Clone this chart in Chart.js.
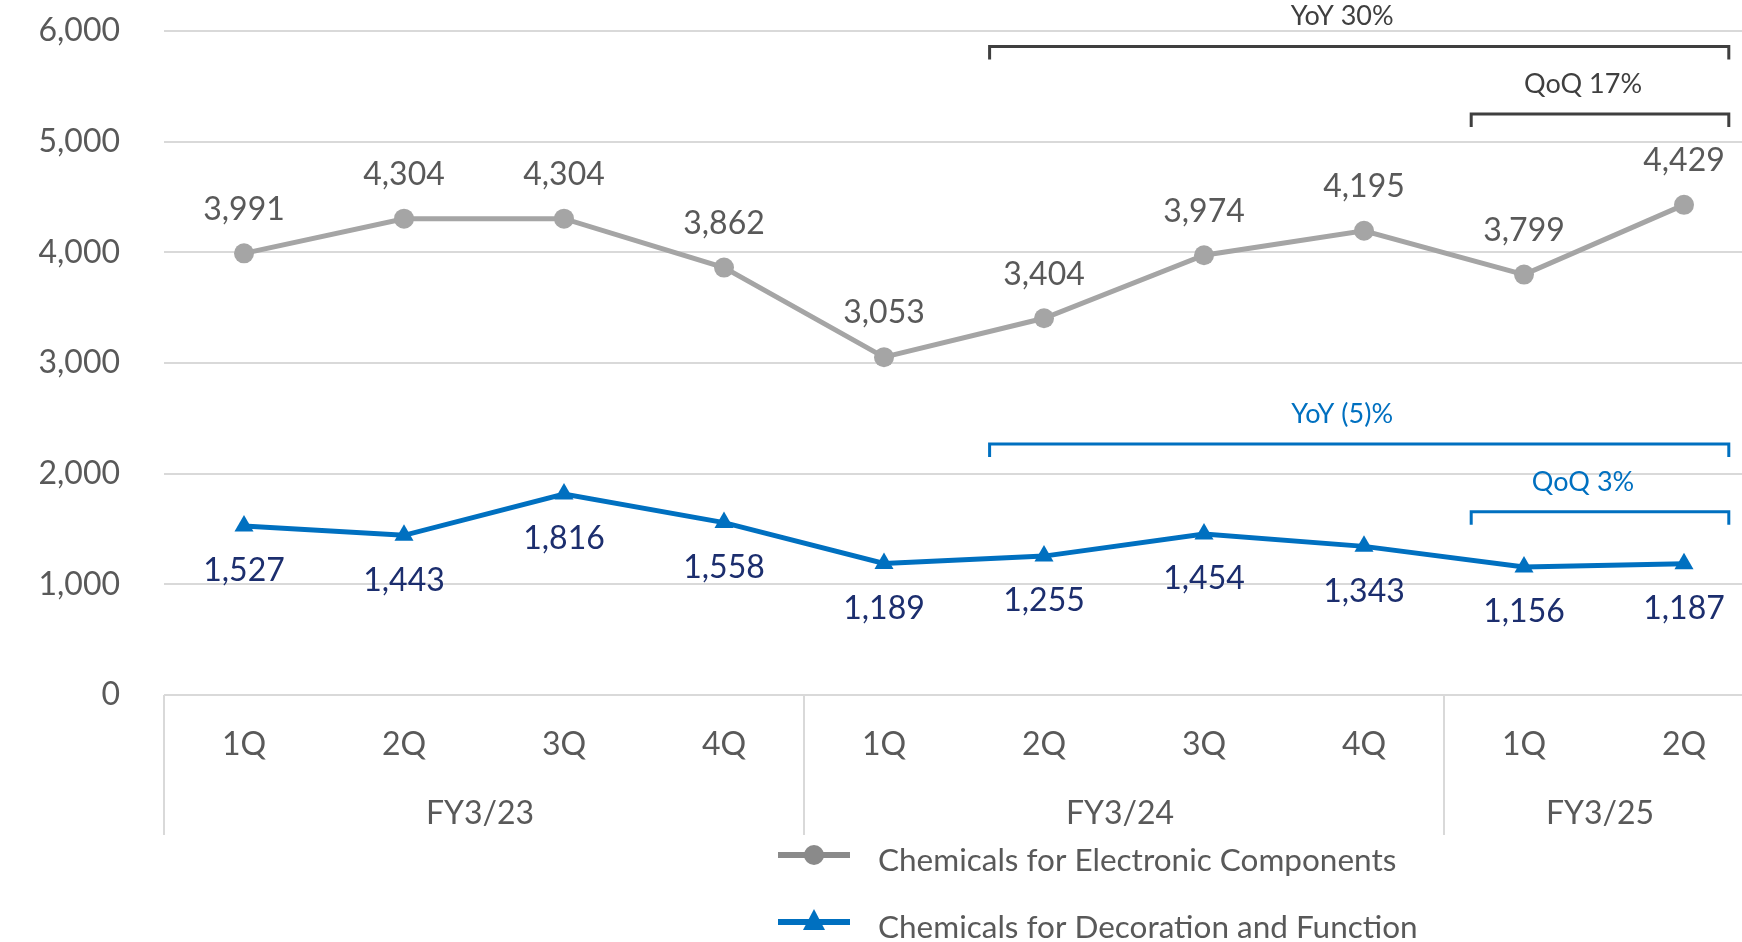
<!DOCTYPE html>
<html>
<head>
<meta charset="utf-8">
<script src="https://cdn.jsdelivr.net/npm/chart.js@4"></script>
<style>
  html, body { margin: 0; padding: 0; background: #fff; overflow: hidden; }
  #wrap { position: relative; width: 1800px; height: 942px; }
</style>
</head>
<body>
<div id="wrap"><canvas id="salesChart"></canvas></div>
<script>
// Quarterly sales by segment
const quarters = ["1Q", "2Q", "3Q", "4Q", "1Q", "2Q", "3Q", "4Q", "1Q", "2Q"];
const fiscalYears = ["FY3/23", "FY3/24", "FY3/25"];
const quartersPerYear = [4, 4, 2];

const electronicLabel = "Chemicals for Electronic Components";
const electronicValues = [3991, 4304, 4304, 3862, 3053, 3404, 3974, 4195, 3799, 4429];

const decorationLabel = "Chemicals for Decoration and Function";
const decorationValues = [1527, 1443, 1816, 1558, 1189, 1255, 1454, 1343, 1156, 1187];

const yTicks = [0, 1000, 2000, 3000, 4000, 5000, 6000];

// growth brackets: [label, first index, last index, series]
const growthNotes = [
  ["YoY 30%", 5, 9, 0],
  ["QoQ 17%", 8, 9, 0],
  ["YoY (5)%", 5, 9, 1],
  ["QoQ 3%", 8, 9, 1]
];

const FONT = "Lato, Carlito, 'Open Sans', sans-serif";
const GRAY = "#A5A5A5";
const BLUE = "#0070C0";
const TEXT = "#595959";
const NAVY = "#1C2E6E";
const GRID = "#D9D9D9";

const fmt = v => v.toLocaleString("en-US");

// value labels: above for grey series, below for blue series
const valueLabels = {
  id: "valueLabels",
  afterDatasetsDraw(chart) {
    const ctx = chart.ctx;
    ctx.save();
    ctx.font = "32px " + FONT;
    ctx.textAlign = "center";
    ctx.textBaseline = "middle";
    chart.data.datasets.forEach((ds, i) => {
      const meta = chart.getDatasetMeta(i);
      ctx.fillStyle = i === 0 ? TEXT : NAVY;
      meta.data.forEach((pt, j) => {
        const dy = i === 0 ? -44 : 45;
        ctx.fillText(fmt(ds.data[j]), pt.x, pt.y + dy);
      });
    });
    ctx.restore();
  }
};

// YoY / QoQ brackets
const brackets = {
  id: "brackets",
  afterDatasetsDraw(chart) {
    const ctx = chart.ctx;
    const x = chart.scales.x, y = chart.scales.y;
    const levels = { "0": [5860, 5250], "1": [2268, 1655] };
    const colors = ["#3F3F3F", BLUE];
    ctx.save();
    growthNotes.forEach(([text, a, b, s]) => {
      const lvl = text.startsWith("YoY") ? levels[s][0] : levels[s][1];
      const step = x.getPixelForValue(1) - x.getPixelForValue(0);
      const x0 = x.getPixelForValue(a) - step * (a === 5 ? 0.34 : 0.33);
      const x1 = x.getPixelForValue(b) + step * 0.28;
      const yy = y.getPixelForValue(lvl);
      ctx.strokeStyle = colors[s];
      ctx.lineWidth = 3;
      ctx.beginPath();
      ctx.moveTo(x0, yy + 13);
      ctx.lineTo(x0, yy);
      ctx.lineTo(x1, yy);
      ctx.lineTo(x1, yy + 13);
      ctx.stroke();
      ctx.fillStyle = colors[s];
      ctx.font = "27px " + FONT;
      ctx.textAlign = "center";
      ctx.textBaseline = "middle";
      ctx.fillText(text, (x0 + x1) / 2 - 17, yy - 30);
    });
    ctx.restore();
  }
};

// fiscal year group labels and separators under the quarter axis
const yearGroups = {
  id: "yearGroups",
  afterDraw(chart) {
    const ctx = chart.ctx;
    const x = chart.scales.x;
    const step = x.getPixelForValue(1) - x.getPixelForValue(0);
    ctx.save();
    ctx.strokeStyle = GRID;
    ctx.lineWidth = 2;
    ctx.fillStyle = TEXT;
    ctx.font = "32px " + FONT;
    ctx.textAlign = "center";
    ctx.textBaseline = "middle";
    let start = 0;
    fiscalYears.forEach((fy, k) => {
      const n = quartersPerYear[k];
      const left = x.getPixelForValue(start) - step / 2;
      const right = x.getPixelForValue(start + n - 1) + step / 2;
      ctx.beginPath();
      ctx.moveTo(left, x.top);
      ctx.lineTo(left, x.bottom);
      ctx.stroke();
      ctx.fillText(fy, (left + right) / 2 - 4, x.top + 119);
      start += n;
    });
    ctx.restore();
  }
};

// legend stacked in two rows below the axis
const stackedLegend = {
  id: "stackedLegend",
  afterDraw(chart) {
    const ctx = chart.ctx;
    const rows = [855, 922];
    ctx.save();
    chart.data.datasets.forEach((ds, i) => {
      const yy = rows[i];
      const col = i === 0 ? "#8A8A8A" : ds.borderColor;
      ctx.strokeStyle = col;
      ctx.fillStyle = col;
      ctx.lineWidth = 6;
      ctx.beginPath();
      ctx.moveTo(778, yy);
      ctx.lineTo(850, yy);
      ctx.stroke();
      if (ds.pointStyle === "triangle") {
        ctx.beginPath();
        ctx.moveTo(814, yy - 13);
        ctx.lineTo(825, yy + 8);
        ctx.lineTo(803, yy + 8);
        ctx.closePath();
        ctx.fill();
      } else {
        ctx.beginPath();
        ctx.arc(814, yy, 10, 0, Math.PI * 2);
        ctx.fill();
      }
      ctx.fillStyle = TEXT;
      ctx.font = "31.5px " + FONT;
      ctx.textAlign = "left";
      ctx.textBaseline = "middle";
      ctx.fillText(ds.label, 878, yy + 6);
    });
    ctx.restore();
  }
};

const chart = new Chart(document.getElementById("salesChart"), {
  type: "line",
  data: {
    labels: quarters,
    datasets: [
      {
        label: electronicLabel,
        data: electronicValues,
        borderColor: GRAY,
        backgroundColor: GRAY,
        borderWidth: 5,
        pointStyle: "circle",
        pointRadius: 10,
        pointBorderWidth: 0,
        tension: 0
      },
      {
        label: decorationLabel,
        data: decorationValues,
        borderColor: BLUE,
        backgroundColor: BLUE,
        borderWidth: 5,
        pointStyle: "triangle",
        pointRadius: 11,
        pointBorderWidth: 0,
        tension: 0
      }
    ]
  },
  options: {
    responsive: true,
    maintainAspectRatio: false,
    animation: false,
    layout: { padding: { top: 31, right: 36, bottom: 107, left: 0 } },
    plugins: {
      legend: { display: false },
      tooltip: { enabled: false }
    },
    scales: {
      x: {
        offset: true,
        grid: { display: false, drawTicks: false },
        border: { display: false },
        ticks: {
          color: TEXT,
          font: { family: FONT, size: 32 },
          padding: 30,
          maxRotation: 0,
          autoSkip: false
        },
        afterFit(scale) { scale.height = 140; }
      },
      y: {
        min: 0,
        max: 6000,
        afterBuildTicks(scale) { scale.ticks = yTicks.map(v => ({ value: v })); },
        grid: { color: GRID, lineWidth: 2, drawTicks: false },
        border: { display: false },
        ticks: {
          color: TEXT,
          font: { family: FONT, size: 32 },
          padding: 44,
          callback: v => fmt(v)
        },
        afterFit(scale) {
          // the wide label gap should not push the plot down
          scale.width = 164;
          scale.paddingTop = 0;
          scale.paddingBottom = 0;
        }
      }
    }
  },
  plugins: [valueLabels, brackets, yearGroups, stackedLegend]
});
</script>
</body>
</html>
